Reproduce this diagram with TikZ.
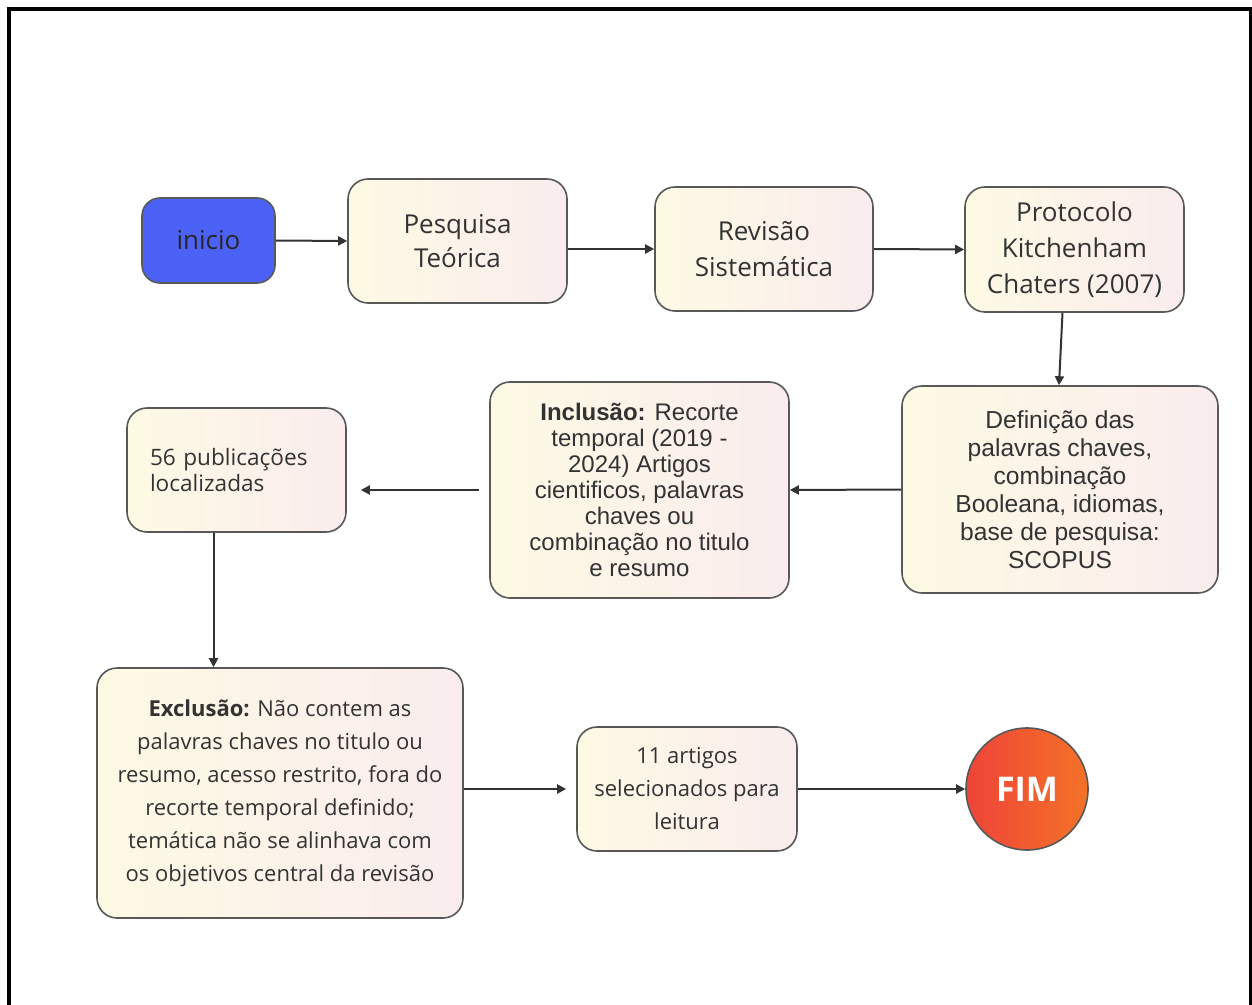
\documentclass[tikz,border=0pt]{standalone}
\usepackage{fontspec}
\setmainfont{Open Sans}
\newfontfamily\arialfont{Liberation Sans}
\usetikzlibrary{calc,arrows.meta,positioning}
\definecolor{boxline}{RGB}{88,88,88}
\definecolor{textgray}{RGB}{51,51,51}
\definecolor{startblue}{RGB}{76,98,246}
\definecolor{endred}{RGB}{238,68,56}
\definecolor{endorange}{RGB}{244,114,40}
\definecolor{padyellow}{RGB}{253,250,228}
\definecolor{padblue}{RGB}{228,238,247}
\definecolor{padpink}{RGB}{250,236,238}

\begin{document}
\begin{tikzpicture}[
        %We work in pixels of the page and define some styles
        x=0.5pt, y=-0.5pt,
        frame line/.style={line width=2pt, black},
        flow arrow/.style={line width=1pt, draw=textgray, -{Triangle[length=4.5pt,width=4.5pt]}},
        flow box/.style={draw=boxline, line width=0.8pt, rounded corners=10pt,
            left color=padyellow, middle color=padblue, right color=padpink,
            text=textgray, align=center, inner sep=0pt},
        start box/.style={draw=boxline, line width=0.8pt, rounded corners=9pt,
            fill=startblue, text=black!85, inner sep=0pt},
        end circle/.style={circle, draw=boxline, line width=0.8pt,
            left color=endred, right color=endorange, text=white, inner sep=0pt},
    ]

    % the page
    \useasboundingbox (0,0) rectangle (1252,1005);
    \draw[frame line] (9,1005) -- (9,9) -- (1250.5,9) -- (1250.5,1005);

    % first row
    \node[start box, minimum width=66.5pt, minimum height=42.5pt,
        font=\fontsize{13}{18}\selectfont] (inicio) at (208.5,240.5) {inicio};
    \node[flow box, minimum width=109.5pt, minimum height=62pt,
        font=\fontsize{13}{17}\selectfont] (pesquisa) at (457.5,241) {Pesquisa\\Teórica};
    \node[flow box, minimum width=109pt, minimum height=62pt,
        font=\fontsize{13}{18}\selectfont] (revisao) at (764,249) {Revisão\\Sistemática};
    \node[flow box, minimum width=109.5pt, minimum height=62.5pt,
        font=\fontsize{13}{18}\selectfont] (protocolo) at (1074.5,249.5)
        {Protocolo\\Kitchenham\\Chaters (2007)};

    % second row
    \node[flow box, minimum width=158pt, minimum height=103.5pt,
        font=\arialfont\fontsize{12.3}{14}\selectfont] (definicao) at (1060,489.5)
        {Definição das\\palavras chaves,\\combinação\\Booleana, idiomas,\\base de pesquisa:\\SCOPUS};
    \node[flow box, minimum width=149.5pt, minimum height=108pt,
        font=\arialfont\fontsize{12}{13}\selectfont] (inclusao) at (639.5,490)
        {\textbf{Inclusão:} Recorte\\temporal (2019 -\\2024) Artigos\\cientificos, palavras\\chaves ou\\combinação no titulo\\e resumo};
    \node[flow box, align=left, text width=86.5pt, inner xsep=11.5pt, minimum height=62pt,
        font=\fontsize{11.3}{13}\selectfont] (publicacoes) at (236.5,470)
        {56~publicações\\localizadas};

    % third row
    \node[flow box, minimum width=183pt, minimum height=125pt,
        font=\fontsize{11}{16.5}\selectfont] (exclusao) at (280,793)
        {\textbf{Exclusão:} Não contem as\\palavras chaves no titulo ou\\resumo, acesso restrito, fora do\\recorte temporal definido;\\temática não se alinhava com\\os objetivos central da revisão};
    \node[flow box, minimum width=110pt, minimum height=62pt,
        font=\fontsize{11}{16.5}\selectfont] (artigos) at (687,789)
        {11 artigos\\selecionados para\\leitura};
    \node[end circle, minimum size=61pt,
        font=\bfseries\fontsize{17}{20}\selectfont] (fim) at (1027,789) {FIM};

    % connectors
    \draw[flow arrow] (inicio.east) -- (pesquisa.west);
    \draw[flow arrow] (pesquisa.east |- revisao.west) -- (revisao.west);
    \draw[flow arrow] (revisao.east) -- (protocolo.west);
    \draw[flow arrow] ($(protocolo.south)+(-12,0)$) -- ($(definicao.north)+(-1,0)$);
    \draw[flow arrow] (definicao.west) -- (inclusao.east);
    \draw[flow arrow, shorten <=5pt, shorten >=7pt]
        (inclusao.west) -- (inclusao.west -| publicacoes.east);
    \coordinate (drop) at ($(publicacoes.south)+(-23,0)$);
    \draw[flow arrow] (drop) -- (drop |- exclusao.north);
    \draw[flow arrow, shorten >=5pt]
        (exclusao.east |- artigos.west) -- (artigos.west);
    \draw[flow arrow] (artigos.east) -- (fim.west);
\end{tikzpicture}
\end{document}
